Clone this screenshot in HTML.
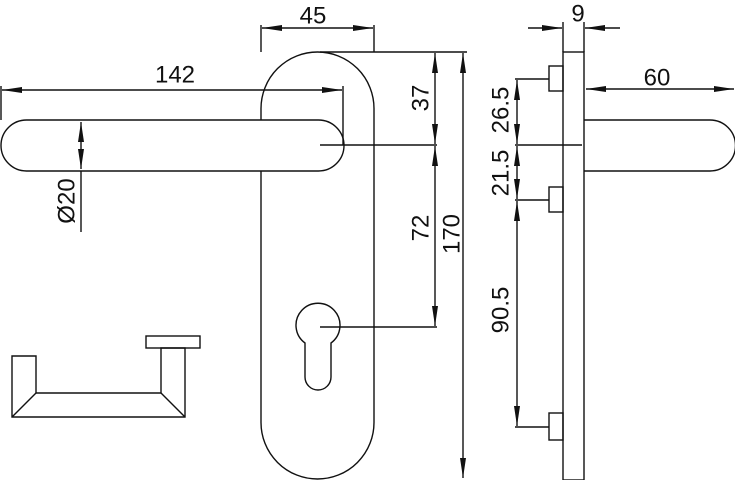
<!DOCTYPE html>
<html><head><meta charset="utf-8"><style>
html,body{margin:0;padding:0;background:#fff;}
svg{display:block;}
text{font-family:"Liberation Sans",sans-serif;font-size:24px;fill:#111;text-anchor:middle;dominant-baseline:central;}
</style></head><body>
<svg width="735" height="480" viewBox="0 0 735 480" xmlns="http://www.w3.org/2000/svg">
<defs>
<marker id="a" viewBox="0 0 20 8" refX="20" refY="4" markerWidth="20" markerHeight="8" markerUnits="userSpaceOnUse" orient="auto-start-reverse">
<path d="M0,1 L20,4 L0,7 z" fill="#111"/></marker>
</defs>
<g fill="none" stroke="#111" stroke-width="1.4">
<rect x="261" y="52" width="113" height="427" rx="56.5" ry="56.5" fill="#fff"/>
<rect x="1" y="120" width="343" height="51" rx="25.5" ry="25.5" fill="#fff"/>
<path d="M305,343 A22,22 0 1 1 331,343 L331,377 A13,13 0 0 1 305,377 Z"/>
<line x1="261" y1="25" x2="261" y2="52"/>
<line x1="374" y1="25" x2="374" y2="52"/>
<line x1="320" y1="52" x2="467" y2="52"/>
<line x1="320" y1="145" x2="437" y2="145"/>
<line x1="320" y1="327" x2="437" y2="327"/>
<line x1="1" y1="86" x2="1" y2="120"/>
<line x1="343" y1="86" x2="343" y2="145"/>
<line x1="81" y1="171" x2="81" y2="232"/>
<line x1="262" y1="28" x2="373" y2="28" marker-start="url(#a)" marker-end="url(#a)"/>
<line x1="2" y1="90" x2="342" y2="90" marker-start="url(#a)" marker-end="url(#a)"/>
<line x1="81" y1="122" x2="81" y2="169" marker-start="url(#a)" marker-end="url(#a)"/>
<line x1="435" y1="53" x2="435" y2="144" marker-start="url(#a)" marker-end="url(#a)"/>
<line x1="435" y1="146" x2="435" y2="326" marker-start="url(#a)" marker-end="url(#a)"/>
<line x1="463" y1="53" x2="463" y2="478" marker-start="url(#a)" marker-end="url(#a)"/>
<path d="M12,417 L12,356 L36,356 L36,393 L161,393 L161,348 L185,348 L185,417 Z"/>
<line x1="12" y1="417" x2="36" y2="393"/>
<line x1="185" y1="417" x2="161" y2="393"/>
<rect x="146" y="336" width="54" height="12"/>
<rect x="563" y="52" width="21" height="428"/>
<rect x="549" y="66" width="14" height="25"/>
<rect x="549" y="187" width="14" height="25"/>
<rect x="549" y="413" width="14" height="27"/>
<path d="M584,120 L710,120 A25.5,25.5 0 0 1 710,171 L584,171"/>
<line x1="563" y1="22" x2="563" y2="52"/>
<line x1="584" y1="22" x2="584" y2="52"/>
<line x1="528" y1="28" x2="562" y2="28" marker-end="url(#a)"/>
<line x1="620" y1="28" x2="585" y2="28" marker-end="url(#a)"/>
<line x1="586" y1="89" x2="734" y2="89" marker-start="url(#a)" marker-end="url(#a)"/>
<line x1="515" y1="79" x2="549" y2="79"/>
<line x1="515" y1="145" x2="582" y2="145"/>
<line x1="515" y1="200" x2="549" y2="200"/>
<line x1="515" y1="427" x2="549" y2="427"/>
<line x1="517" y1="80" x2="517" y2="144" marker-start="url(#a)" marker-end="url(#a)"/>
<line x1="517" y1="146" x2="517" y2="199" marker-start="url(#a)" marker-end="url(#a)"/>
<line x1="517" y1="201" x2="517" y2="426" marker-start="url(#a)" marker-end="url(#a)"/>
</g>
<text x="313" y="16">45</text>
<text x="175" y="75">142</text>
<text x="657" y="78">60</text>
<text x="578" y="14">9</text>
<text transform="translate(67,201) rotate(-90)">Ø20</text>
<text transform="translate(421,98) rotate(-90)">37</text>
<text transform="translate(421,228) rotate(-90)">72</text>
<text transform="translate(452,234) rotate(-90)">170</text>
<text transform="translate(501,110) rotate(-90)">26.5</text>
<text transform="translate(501,173) rotate(-90)">21.5</text>
<text transform="translate(501,310) rotate(-90)">90.5</text>
</svg>
</body></html>
